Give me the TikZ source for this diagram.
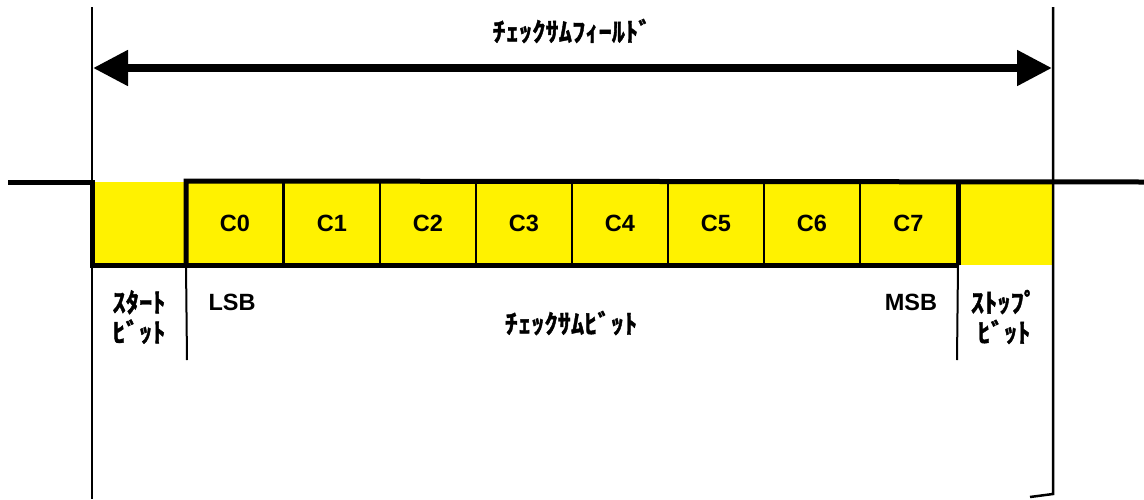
\documentclass[tikz,border=0pt]{standalone}
\usepackage{fontspec}
\setmainfont{Liberation Sans}
\newfontfamily\jpfont{Noto Sans CJK JP Bold}[FakeBold=1.5]
\usetikzlibrary{arrows.meta}
\tikzset{
  thickline/.style={line width=5pt},
  thinline/.style={line width=2pt},
  cellbox/.style={fill=yellow, draw=black, line width=2pt, minimum width=96pt, minimum height=82pt, inner sep=0pt, font=\fontsize{23.5}{26}\selectfont\bfseries},
  lbl/.style={font=\fontsize{23.5}{26}\selectfont\bfseries, inner sep=0pt},
  jplbl/.style={font=\jpfont\fontsize{26.5}{30}\selectfont, inner sep=0pt, align=center},
}
\begin{document}
\begin{tikzpicture}[x=1pt,y=-1pt]
\useasboundingbox (0,0) rectangle (1144,499);
% yellow start/stop fills
\fill[yellow] (92,182) rectangle (187,265);
\fill[yellow] (957,182) rectangle (1053,265);
% cells
\foreach \i/\xa in {0/187,1/284,2/380,3/476,4/572,5/668,6/764,7/860} {
  \pgfmathsetmacro{\xb}{\i==7 ? 957 : \xa+96}
  \node[cellbox, minimum width={\xb-\xa}] (c\i) at ({(\xa+\xb)/2},223) {C\i};
}
% frame coordinates
\coordinate (lt) at (92,7);
\coordinate (lb) at (92,499);
\coordinate (rt) at (1053,7);
\coordinate (rb) at (1053,494);
\coordinate (rtail) at (1030,497);
% vertical extent lines
\draw[line width=2.5pt] (lt) -- (lb);
\draw[line width=2.5pt] (rt) -- (rb) -- (rtail);
% thin separators below
\coordinate (sa) at (187,360);
\coordinate (sb) at (957,360);
\draw[thinline] (c0.south west) -- (sa);
\draw[thinline] (c7.south east) -- (sb);
% signal waveform
\coordinate (w0) at (8,182);
\coordinate (w1) at (92,182);
\coordinate (w2) at (92,265);
\coordinate (w5) at (1144,182);
\draw[thickline, line join=miter] (w0) -- (w1) -- (w2) -- (c7.south east |- w2);
\draw[thickline, line join=miter] (c0.south west) -- (c0.north west) -- (w5);
\draw[thickline] (c7.north east) -- (c7.south east);
% arrow
\coordinate (al) at (93,68);
\coordinate (ar) at (1052,68);
\draw[line width=8pt, {Triangle[length=35pt,width=34pt]}-{Triangle[length=35pt,width=34pt]}] (al) -- (ar);
% labels
\node[jplbl] (title) at (572,31) {ﾁｪｯｸｻﾑﾌｨｰﾙﾄﾞ};
\node[jplbl] (start) at (139,317) {ｽﾀｰﾄ\\ﾋﾞｯﾄ};
\node[jplbl] (stop) at (1004,317) {ｽﾄｯﾌﾟ\\ﾋﾞｯﾄ};
\node[jplbl] (csum) at (571,323) {ﾁｪｯｸｻﾑﾋﾞｯﾄ};
\node[lbl] (lsb) at (232,302) {LSB};
\node[lbl] (msb) at (911,302) {MSB};
\end{tikzpicture}
\end{document}
